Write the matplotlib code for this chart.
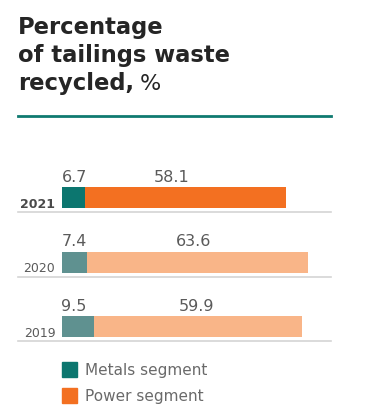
import matplotlib
matplotlib.use('Agg')
import matplotlib.pyplot as plt
from matplotlib.patches import Rectangle

years = ['2021', '2020', '2019']
metals = [6.7, 7.4, 9.5]
power = [58.1, 63.6, 59.9]
# where the power label sits inside its segment (fraction of segment)
power_label_frac = [0.43, 0.48, 0.49]

metals_colors = ['#0c766f', '#5f9190', '#5f9190']
power_colors = ['#f37021', '#f9b588', '#f9b588']
text_grey = '#5a5a5a'

plt.rcParams['font.family'] = ['DejaVu Sans']

W, H = 366, 409
fig = plt.figure(figsize=(W / 100, H / 100), dpi=100)

# title
title_kw = dict(fontsize=16.3, fontweight='bold', color='#252525', va='baseline', ha='left')
fig.text(18 / W, 1 - 34 / H, 'Percentage', **title_kw)
fig.text(18 / W, 1 - 62 / H, 'of tailings waste', **title_kw)
t3 = fig.text(18 / W, 1 - 90 / H, 'recycled,', **title_kw)
fig.canvas.draw()
bb = t3.get_window_extent()
fig.text(bb.x1 / W + 6 / W, 1 - 90 / H, '%', fontsize=16, color='#252525',
         va='baseline', ha='left')

# teal rule under the title
fig.add_artist(plt.Line2D([18 / W, 331 / W], [1 - 116 / H, 1 - 116 / H],
                          color='#0f7a70', lw=2, transform=fig.transFigure))

# bars
px = 3.47          # pixels per percent
row = 64.5         # pixels per row
x0 = 61.5          # pixel of zero
left, right = 18, 331
top, bottom = 150, 348
ax = fig.add_axes([left / W, 1 - bottom / H, (right - left) / W, (bottom - top) / H])
ax.set_xlim(-(x0 - left) / px, (right - x0) / px)
ax.set_ylim(2 + (bottom - 326.5) / row, -(197.5 - top) / row)
ax.axis('off')

bh = 21 / row
for i, y in enumerate(years):
    ax.barh(i, metals[i], height=bh, color=metals_colors[i], left=0)
    ax.barh(i, power[i], height=bh, color=power_colors[i], left=metals[i])
    # separator below the row
    ax.plot([ax.get_xlim()[0], ax.get_xlim()[1]], [i + 14.5 / row] * 2,
            color='#d4d4d4', lw=1.2, clip_on=False)
    ax.text(0, i - bh / 2 - 5 / row, f'{metals[i]}', fontsize=11.5, color=text_grey,
            ha='left', va='baseline')
    ax.text(metals[i] + power[i] * power_label_frac[i], i - bh / 2 - 5 / row,
            f'{power[i]}', fontsize=11.5, color=text_grey, ha='center',
            va='baseline')
    ax.text(-1.8, i + bh / 2, y, fontsize=9, color='#4a4a4a' if i == 0 else text_grey,
            ha='right', va='baseline', fontweight='bold' if i == 0 else 'normal')

# legend
for j, (lab, c) in enumerate([('Metals segment', '#0c766f'), ('Power segment', '#f37021')]):
    yc = 369.5 + j * 26
    fig.add_artist(Rectangle((62 / W, 1 - (yc + 7.5) / H), 15 / W, 15 / H,
                             color=c, transform=fig.transFigure))
    fig.text(85 / W, 1 - (yc + 5) / H, lab, fontsize=11, color='#6a6a6a',
             ha='left', va='baseline')

fig.savefig('out.png', dpi=100)
